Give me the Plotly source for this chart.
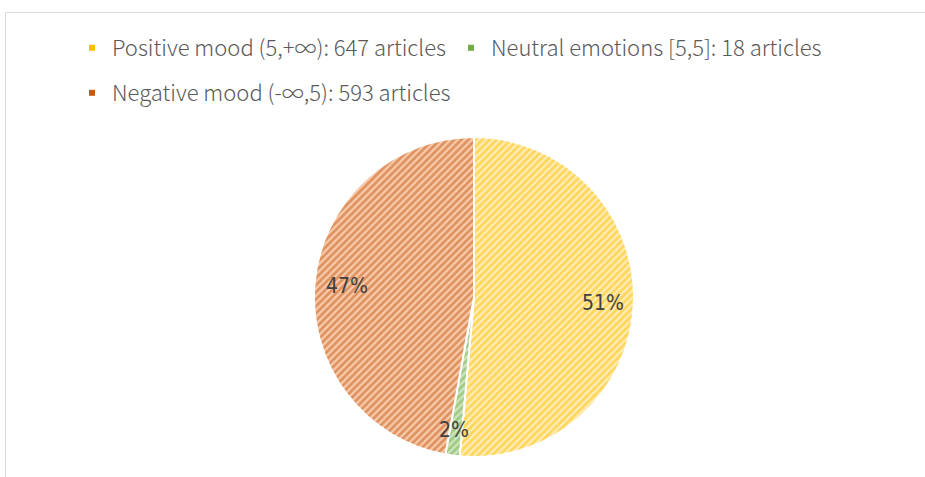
import math
import plotly.graph_objects as go

labels = ["Positive mood (5,+∞): 647 articles",
          "Neutral emotions [5,5]: 18 articles",
          "Negative mood (-∞,5): 593 articles"]
values = [647, 18, 593]
pct_text = ["51%", "2%", "47%"]
fg_colors = ["#FFC000", "#70AD47", "#C55A11"]
bg_colors = ["#FFEDB8", "#CFE6C0", "#F8CBAD"]
legend_rows = ["legend", "legend", "legend2"]

W, H = 925, 477
cx, cy, r = 474, 297, 160
label_r = [0.81, 0.93, 0.80]

fig = go.Figure()
fig.add_trace(go.Pie(
    labels=labels, values=values, textinfo="none",
    sort=False, direction="clockwise", rotation=0, showlegend=False,
    marker=dict(colors=bg_colors, line=dict(color="white", width=2),
                pattern=dict(shape="/", fgcolor=fg_colors, bgcolor=bg_colors,
                             size=5, solidity=0.55, fillmode="overlay")),
    domain=dict(x=[(cx - r) / W, (cx + r) / W], y=[1 - (cy + r) / H, 1 - (cy - r) / H]),
    hoverinfo="label+percent",
))

# legend entries (small square markers like the reference)
for lab, col, lg in zip(labels, fg_colors, legend_rows):
    fig.add_trace(go.Scatter(x=[None], y=[None], mode="markers", name=lab,
                             marker=dict(symbol="square", size=6, color=col),
                             legend=lg, hoverinfo="skip"))

# percentage labels placed along each slice's bisector
total = sum(values)
cum = 0
annotations = []
for v, t, f in zip(values, pct_text, label_r):
    mid = (cum + v / 2) / total * 2 * math.pi
    cum += v
    px = cx + f * r * math.sin(mid)
    py = cy - f * r * math.cos(mid)
    annotations.append(dict(x=px / W, y=1 - py / H, xref="paper", yref="paper",
                            text=t, showarrow=False,
                            font=dict(size=21, color="#404040",
                                      family="DejaVu Sans Condensed, Roboto Condensed, Liberation Sans")))

legend_font = dict(size=22, color="#595959", family="Noto Sans CJK SC", weight=300)
fig.update_layout(
    width=W, height=H,
    margin=dict(l=0, r=0, t=0, b=0),
    paper_bgcolor="white", plot_bgcolor="white",
    xaxis=dict(visible=False), yaxis=dict(visible=False),
    legend=dict(orientation="h", x=72 / W, xanchor="left", y=1 - 48 / H, yanchor="middle",
                font=legend_font, itemclick=False),
    legend2=dict(orientation="h", x=72 / W, xanchor="left", y=1 - 93 / H, yanchor="middle",
                 font=legend_font, itemclick=False),
    annotations=annotations,
    shapes=[dict(type="rect", xref="paper", yref="paper", x0=5.5 / W, x1=1.05,
                 y0=-0.05, y1=1 - 12.5 / H, line=dict(color="#D9D9D9", width=1))],
)

fig.write_html("out.html")
